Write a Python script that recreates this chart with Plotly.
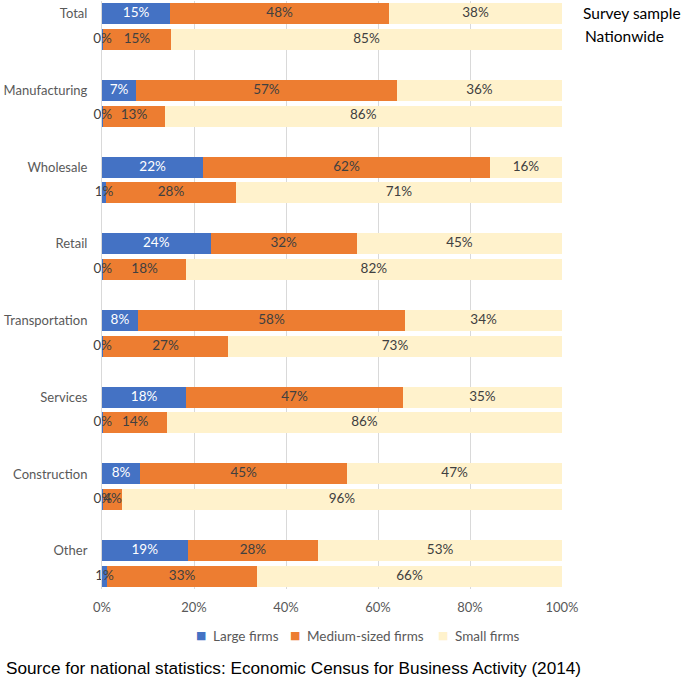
import plotly.graph_objects as go

categories = ["Total", "Manufacturing", "Wholesale", "Retail", "Transportation",
              "Services", "Construction", "Other"]
series_names = ["Large firms", "Medium-sized firms", "Small firms"]
row_labels = ["Survey sample", "Nationwide"]

# Survey sample shares (%)
large_survey = [14.8, 7.4, 22.0, 23.6, 7.8, 18.3, 8.3, 18.6]
medium_survey = [47.6, 56.7, 62.3, 31.8, 58.1, 47.1, 45.0, 28.4]
small_survey = [37.6, 35.9, 15.7, 44.6, 34.1, 34.6, 46.7, 53.0]
# Nationwide shares (%)
large_nation = [0.2, 0.3, 0.9, 0.3, 0.2, 0.3, 0.3, 1.1]
medium_nation = [14.8, 13.3, 28.2, 17.9, 27.2, 13.8, 4.0, 32.6]
small_nation = [85.0, 86.4, 70.9, 81.8, 72.6, 85.9, 95.7, 66.3]

x_ticks = [0, 20, 40, 60, 80, 100]

colors = ["#4472C4", "#ED7D31", "#FFF2CC"]
legend_swatch_colors = ["#4472C4", "#ED7D31", "#FFF2CC"]
FONT = "Lato"

# positions: survey row at 3*i, nationwide row at 3*i+1 (blank slot between groups)
ys, series_vals = [], [[], [], []]
survey = [large_survey, medium_survey, small_survey]
nation = [large_nation, medium_nation, small_nation]
for i in range(len(categories)):
    ys += [3 * i, 3 * i + 1]
    for s in range(3):
        series_vals[s] += [survey[s][i], nation[s][i]]

fig = go.Figure()
for s in range(3):
    fig.add_trace(go.Bar(
        x=series_vals[s], y=ys, orientation="h", name=series_names[s],
        marker=dict(color=colors[s], line=dict(width=0)), width=0.82,
        hoverinfo="skip", showlegend=False,
    ))

# labels centred on each segment
tx, ty, tt, tc = [], [], [], []
for j, y in enumerate(ys):
    start = 0
    for s in range(3):
        v = series_vals[s][j]
        tx.append(start + v / 2)
        ty.append(y)
        tt.append(f"{round(v)}%")
        tc.append("#FFFFFF" if (s == 0 and v >= 3) else "#404040")
        start += v
fig.add_trace(go.Scatter(
    x=tx, y=ty, mode="text", text=tt, showlegend=False, hoverinfo="skip",
    textfont=dict(family=FONT, size=13.5, color=tc), cliponaxis=False,
))

# legend drawn as swatch + label annotations below the axis
legend_swatch_x = [0.2152, 0.4196, 0.7413]
legend_text_x = [0.2370, 0.4413, 0.7630]
legend_y = -0.0799
annotations = []
for s in range(3):
    annotations.append(dict(text="■", xref="paper", yref="paper", x=legend_swatch_x[s],
                            y=legend_y, xanchor="center", yanchor="middle", showarrow=False,
                            font=dict(family="DejaVu Sans", size=11, color=legend_swatch_colors[s])))
    annotations.append(dict(text=series_names[s], xref="paper", yref="paper", x=legend_text_x[s],
                            y=legend_y, xanchor="left", yanchor="middle", showarrow=False,
                            font=dict(family=FONT, size=13.5, color="#595959")))

annotations += [
    dict(text=row_labels[0], xref="paper", yref="y", x=1.041, y=-0.02, xanchor="left",
         yanchor="middle", showarrow=False, font=dict(family=FONT, size=15.5, color="black")),
    dict(text=row_labels[1], xref="paper", yref="y", x=1.046, y=0.86, xanchor="left",
         yanchor="middle", showarrow=False, font=dict(family=FONT, size=15.5, color="black")),
    dict(text="Source for national statistics: Economic Census for Business Activity (2014)",
         xref="paper", yref="paper", x=-0.2130, y=-0.134, xanchor="left", yanchor="middle",
         showarrow=False, font=dict(family="Liberation Sans", size=17.2, color="black")),
]

fig.update_layout(
    width=685, height=677,
    barmode="stack",
    margin=dict(l=102, r=123, t=1, b=88, autoexpand=False),
    paper_bgcolor="white", plot_bgcolor="white",
    font=dict(family=FONT, size=13, color="#595959"),
    xaxis=dict(range=[0, 100], tickvals=x_ticks, ticktext=[f"{t}%" for t in x_ticks],
               showgrid=True, gridcolor="#D9D9D9", gridwidth=1, zeroline=False,
               showline=False, tickfont=dict(size=13, color="#595959"),
               ticks="outside", ticklen=6, tickcolor="rgba(0,0,0,0)", automargin=False),
    yaxis=dict(range=[22.5, -0.5], tickvals=[3 * i for i in range(len(categories))],
               ticktext=categories, showgrid=False, zeroline=False,
               showline=True, linecolor="#D9D9D9", linewidth=1,
               ticks="outside", ticklen=11, tickcolor="rgba(0,0,0,0)",
               tickfont=dict(size=13, color="#595959"), automargin=False),
    showlegend=False,
    annotations=annotations,
)

fig.write_html("out.html", config={"displayModeBar": False},
               post_script="document.body.style.margin='0';")
